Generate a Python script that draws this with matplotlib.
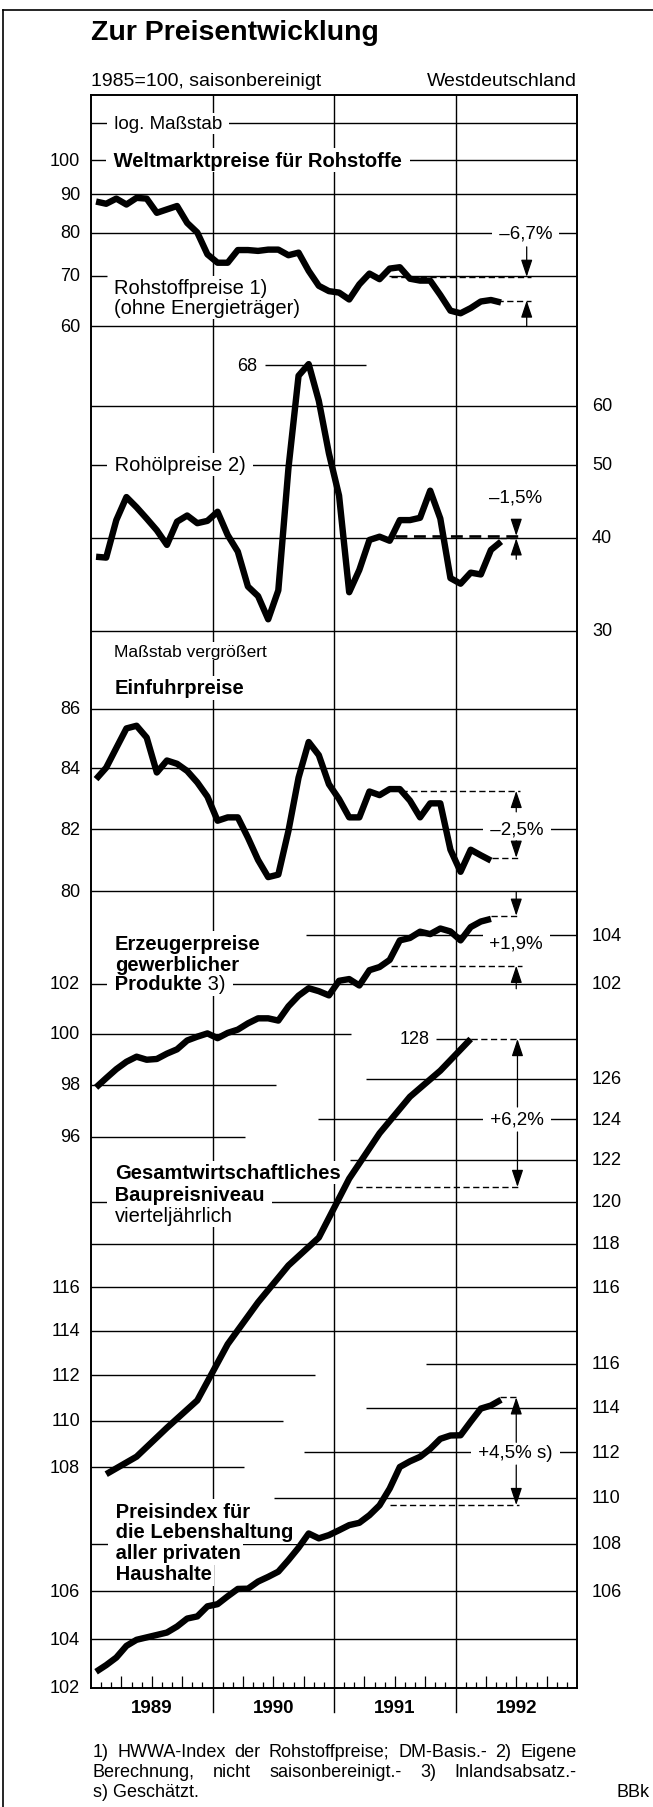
import numpy as np
import matplotlib
matplotlib.use("Agg")
import matplotlib.pyplot as plt
import matplotlib.transforms as mtransforms
from matplotlib.lines import Line2D

plt.rcParams['font.family'] = ['Liberation Sans', 'DejaVu Sans']

# ---------------- data ----------------
# monthly, Jan 1989 - May 1992
rohstoffpreise = [88.0, 87.4, 88.8, 87.2, 89.0, 88.8, 85.0, 85.9, 86.8, 82.4,
                  80.0, 74.8, 72.9, 72.9, 75.8, 75.8, 75.6, 75.9, 75.9, 74.6,
                  75.2, 71.1, 67.9, 66.8, 66.5, 65.1, 68.2, 70.5, 69.3, 71.6,
                  71.9, 69.4, 69.0, 69.0, 66.0, 62.9, 62.4, 63.4, 64.7, 65.0, 64.5]
rohoelpreise = [37.7, 37.6, 42.2, 45.3, 43.9, 42.4, 40.9, 39.1, 42.0, 42.8,
                41.8, 42.1, 43.3, 40.3, 38.3, 34.4, 33.4, 31.1, 34.0, 49.5,
                65.8, 68.2, 60.9, 51.8, 45.5, 33.8, 36.2, 39.7, 40.1, 39.6,
                42.2, 42.2, 42.5, 46.2, 42.4, 35.3, 34.7, 35.9, 35.7, 38.5, 39.5]
# monthly, Jan 1989 - Apr 1992
einfuhrpreise = [83.64, 84.02, 84.68, 85.34, 85.43, 85.03, 83.86, 84.26, 84.15, 83.91,
                 83.53, 83.06, 82.27, 82.38, 82.38, 81.72, 81.00, 80.45, 80.53, 81.94,
                 83.69, 84.88, 84.44, 83.47, 82.98, 82.38, 82.38, 83.23, 83.11, 83.31,
                 83.31, 82.93, 82.38, 82.84, 82.84, 81.33, 80.62, 81.33, 81.15, 80.98]
erzeugerpreise = [97.90, 98.26, 98.61, 98.90, 99.10, 98.98, 99.01, 99.22, 99.39, 99.74,
                  99.89, 100.02, 99.83, 100.04, 100.17, 100.42, 100.62, 100.62, 100.53, 101.10,
                  101.53, 101.83, 101.71, 101.54, 102.13, 102.20, 101.94, 102.56, 102.69, 102.98,
                  103.78, 103.88, 104.14, 104.04, 104.27, 104.15, 103.78, 104.33, 104.56, 104.67]
# quarterly, Q1 1989 - Q1 1992
baupreisniveau = [107.7, 108.45, 109.7, 110.9, 113.4, 115.3, 117.0, 118.3, 121.1,
                  123.3, 125.1, 126.4, 128.0]
# monthly, Jan 1989 - May 1992
lebenshaltung = [102.66, 102.93, 103.24, 103.72, 103.97, 104.07, 104.17, 104.27, 104.52, 104.85,
                 104.94, 105.36, 105.45, 105.78, 106.09, 106.10, 106.40, 106.60, 106.82, 107.31,
                 107.84, 108.45, 108.24, 108.38, 108.59, 108.81, 108.91, 109.24, 109.67, 110.40,
                 111.35, 111.60, 111.80, 112.15, 112.60, 112.75, 112.76, 113.37, 113.96, 114.10, 114.36]

years = [1989, 1990, 1991, 1992]
year_labels = ['1989', '1990', '1991', '1992']

ticks_rohstoff_l = [100, 90, 80, 70, 60]
ticks_rohoel_r = [60, 50, 40, 30]
ticks_einfuhr_l = [86, 84, 82, 80]
ticks_erzeuger_l = [102, 100, 98, 96]
ticks_erzeuger_r = [104, 102]
ticks_bau_l = [116, 114, 112, 110, 108]
ticks_bau_r = [126, 124, 122, 120, 118, 116]
ticks_leben_l = [106, 104, 102]
ticks_leben_r = [116, 114, 112, 110, 108, 106]

# change annotations: level a year earlier, latest level, label
ref_earlier = [69.8, 40.2, 83.25, 102.74, 120.7, 109.68]
ref_latest = [64.9, 39.9, 81.07, 104.80, 128.0, 114.47]
pct_labels = ['–6,7%', '–1,5%', '–2,5%', '+1,9%', '+6,2%', '+4,5% s)']
rohoel_peak = 68
bau_peak = 128

fn1 = ['1)', 'HWWA-Index', 'der', 'Rohstoffpreise;', 'DM-Basis.-', '2)', 'Eigene']
fn2 = ['Berechnung,', 'nicht', 'saisonbereinigt.-', '3)', 'Inlandsabsatz.-']
fn3 = 's) Geschätzt.'

# ---------------- layout ----------------
W, H = 653, 1808
LP, RP, TP, BP = 91, 577, 96, 1689
XA, XB = 1989.0, 1993.0
PXY = (RP - LP) / (XB - XA)
FS_LAB = 14.5
FS_TICK = 13
FS_PCT = 13.5

fig = plt.figure(figsize=(W / 100, H / 100), dpi=100)
fig.patch.set_facecolor('white')
rect = [LP / W, 1 - BP / H, (RP - LP) / W, (BP - TP) / H]
renderer = fig.canvas.get_renderer()


def fy(py):
    return (BP - py) / (BP - TP)


def sp(fs):
    return 0.278 * fs * 100 / 72 / PXY


ax0 = fig.add_axes(rect, label='frame')
ax0.set_xlim(XA, XB)
ax0.set_ylim(0, 1)
for s in ax0.spines.values():
    s.set_linewidth(1.4)
quarters = [y + q / 4 for y in years for q in (1, 2, 3)]
months = [y + m / 12 for y in years for m in range(1, 12) if m % 3]
ax0.set_xticks(quarters)
ax0.set_xticks(months, minor=True)
ax0.tick_params(axis='x', which='both', direction='in', width=0.9, top=False,
                labelbottom=False)
ax0.tick_params(axis='x', which='major', length=9)
ax0.tick_params(axis='x', which='minor', length=4.5)
ax0.set_yticks([])
for y in years[1:]:
    ax0.axvline(y, color='k', lw=1.0, zorder=1)
xtr = ax0.get_xaxis_transform()
for y in years[1:]:
    ax0.plot([y, y], [0, -24 / (BP - TP)], transform=xtr, color='k', lw=1.0, clip_on=False)
for y, lab in zip(years, year_labels):
    ax0.text(y + 0.5, -20 / (BP - TP), lab, transform=xtr, ha='center', va='center',
             fontsize=13.5, fontweight='bold')


def panel(name, v0, p0, k):
    ax = fig.add_axes(rect, label=name)
    ax.set_yscale('log')
    ax.set_xlim(XA, XB)
    ax.set_ylim(v0 * np.exp(-(BP - p0) / k), v0 * np.exp((p0 - TP) / k))
    ax.set_autoscale_on(False)
    ax.set_axis_off()
    ax.patch.set_alpha(0)
    return ax


axR1 = panel('rohstoff', 100, 161, 325)
axR2 = panel('rohoel', 40, 538.5, 325)
axE = panel('einfuhr', 86, 710, 2520)
axP = panel('erzeuger', 102, 985, 2520)
axB = panel('bau', 128, 1040, 2520)
axL = panel('leben', 102, 1689, 2520)

LINE = dict(color='k', lw=4.6, solid_joinstyle='round', solid_capstyle='butt', zorder=5)
BOX = dict(boxstyle='square,pad=0.1', fc='white', ec='none')


def hl(ax, v, a=XA, b=XB):
    ax.hlines(v, a, b, colors='k', linewidths=1.0, zorder=1)


def dashed(ax, v, a, b, lw=1.0):
    ax.hlines(v, a, b, colors='k', linewidths=lw, linestyles=(0, (4.5, 2.5)), zorder=2)


def arrow(ax, x, v, tail_px):
    ax.annotate('', xy=(x, v), xytext=(0, tail_px), textcoords='offset pixels',
                arrowprops=dict(arrowstyle='-|>,head_length=0.75,head_width=0.25',
                                mutation_scale=14, lw=0.9, color='k',
                                shrinkA=0, shrinkB=0), zorder=4)


def btext(ax, x, y, s, px=False, **kw):
    """text on a white patch: the patch is drawn below every text of the panel"""
    kw.setdefault('va', 'center')
    if px:
        kw['transform'] = ax0.transData
        y = fy(y)
    ax.text(x, y, s, color='white', bbox=BOX, zorder=3, **kw)
    return ax.text(x, y, s, color='k', zorder=3.5, **kw)


def ticklabels(ax, vals, side):
    tr = mtransforms.blended_transform_factory(ax.transAxes, ax.transData)
    for v in vals:
        if side == 'l':
            ax.text(-11 / (RP - LP), v, str(v), transform=tr, ha='right', va='center',
                    fontsize=FS_TICK, clip_on=False)
        else:
            ax.text(1 + 15 / (RP - LP), v, str(v), transform=tr, ha='left', va='center',
                    fontsize=FS_TICK, clip_on=False)


def monthly(n):
    return XA + (np.arange(n) + 0.5) / 12


def quarterly(n):
    return XA + (np.arange(n) * 3 + 1.5) / 12


# ---------------- Rohstoffpreise ----------------
for v in (112, 100, 90, 80, 60):
    hl(axR1, v)
hl(axR1, 70, XA, 1989.13)
hl(axR1, 70, 1991.45, XB)
ticklabels(axR1, ticks_rohstoff_l, 'l')
btext(axR1, 1989.188 - sp(13.5), 112, ' log. Maßstab ', fontsize=13.5)
btext(axR1, 1989.186 - sp(FS_LAB), 100, ' Weltmarktpreise für Rohstoffe ', fontsize=FS_LAB,
      fontweight='bold')
btext(axR1, 1992.577, 80, ' ' + pct_labels[0] + ' ', fontsize=FS_PCT, ha='center')
btext(axR1, 1989.188, 288.3, 'Rohstoffpreise 1)', px=True, fontsize=FS_LAB)
btext(axR1, 1989.188, 308.3, '(ohne Energieträger)', px=True, fontsize=FS_LAB)
dashed(axR1, ref_earlier[0], 1991.47, 1992.62)
dashed(axR1, ref_latest[0], 1992.34, 1992.62)
arrow(axR1, 1992.586, ref_earlier[0], 30)
arrow(axR1, 1992.586, ref_latest[0], -26)
axR1.plot(monthly(len(rohstoffpreise)), rohstoffpreise, **LINE)

# ---------------- Rohölpreise ----------------
for v in (60, 50, 40, 30):
    hl(axR2, v)
hl(axR2, rohoel_peak, 1990.43, 1991.26)
axR2.text(1990.369, rohoel_peak, str(rohoel_peak), fontsize=FS_TICK, ha='right', va='center')
ticklabels(axR2, ticks_rohoel_r, 'r')
btext(axR2, 1989.193 - sp(FS_LAB), 50, ' Rohölpreise 2) ', fontsize=FS_LAB)
axR2.text(1992.496, fy(498), pct_labels[1], transform=ax0.transData, fontsize=FS_PCT,
          ha='center', va='center', zorder=3)
dashed(axR2, ref_earlier[1], 1991.5, 1992.53, lw=1.9)
dashed(axR2, ref_latest[1], 1992.37, 1992.52)
arrow(axR2, 1992.5, ref_earlier[1], 16)
arrow(axR2, 1992.5, ref_latest[1], -21)
axR2.plot(monthly(len(rohoelpreise)), rohoelpreise, **LINE)

# ---------------- Einfuhrpreise ----------------
for v in (86, 84, 82, 80):
    hl(axE, v)
ticklabels(axE, ticks_einfuhr_l, 'l')
btext(axE, 1989.193, 652, 'Maßstab vergrößert', px=True, fontsize=12.5)
btext(axE, 1989.192, 689, 'Einfuhrpreise', px=True, fontsize=FS_LAB, fontweight='bold')
btext(axE, 1992.507, 82, ' ' + pct_labels[2] + ' ', fontsize=FS_PCT, ha='center')
dashed(axE, ref_earlier[2], 1991.55, 1992.53)
dashed(axE, ref_latest[2], 1992.3, 1992.53)
arrow(axE, 1992.5, ref_earlier[2], -21)
arrow(axE, 1992.5, ref_latest[2], 17)
axE.plot(monthly(len(einfuhrpreise)), einfuhrpreise, **LINE)

# ---------------- Erzeugerpreise ----------------
hl(axP, 104, 1990.77, XB)
hl(axP, 102)
hl(axP, 100, XA, 1991.14)
hl(axP, 98, XA, 1990.52)
hl(axP, 96, XA, 1990.27)
ticklabels(axP, ticks_erzeuger_l, 'l')
ticklabels(axP, ticks_erzeuger_r, 'r')
btext(axP, 1992.501, 944, ' ' + pct_labels[3] + ' ', px=True, fontsize=FS_PCT, ha='center')
btext(axP, 1989.195, 944, 'Erzeugerpreise', px=True, fontsize=FS_LAB, fontweight='bold')
btext(axP, 1989.195, 965.5, 'gewerblicher', px=True, fontsize=FS_LAB, fontweight='bold')
t_prod = btext(axP, 1989.195 - sp(FS_LAB), 102, ' Produkte', fontsize=FS_LAB,
               fontweight='bold')
for col, z, bb in (('white', 3, BOX), ('k', 3.5, None)):
    axP.annotate(' 3) ', xy=(1, 0.5), xycoords=t_prod, fontsize=FS_LAB, ha='left',
                 va='center', color=col, bbox=bb, zorder=z)
dashed(axP, ref_latest[3], 1992.29, 1992.53)
dashed(axP, ref_earlier[3], 1991.47, 1992.55)
arrow(axP, 1992.5, ref_latest[3], 24)
arrow(axP, 1992.5, ref_earlier[3], -23)
axP.plot(monthly(len(erzeugerpreise)), erzeugerpreise, **LINE)

# ---------------- Baupreisniveau ----------------
hl(axB, bau_peak, 1991.84, 1992.13)
hl(axB, bau_peak, 1992.52, XB)
hl(axB, 126, 1991.26, XB)
hl(axB, 124, 1990.87, XB)
hl(axB, 122, 1991.13, XB)
for v in (120, 118, 116, 114):
    hl(axB, v)
hl(axB, 112, XA, 1990.84)
hl(axB, 110, XA, 1990.58)
hl(axB, 108, XA, 1990.26)
ticklabels(axB, ticks_bau_l, 'l')
ticklabels(axB, ticks_bau_r, 'r')
axB.text(1991.791, bau_peak, str(bau_peak), fontsize=FS_TICK, ha='right', va='center')
btext(axB, 1992.507, 124, ' ' + pct_labels[4] + ' ', fontsize=FS_PCT, ha='center')
btext(axB, 1989.197, 1173.3, 'Gesamtwirtschaftliches', px=True, fontsize=FS_LAB,
      fontweight='bold')
btext(axB, 1989.197 - sp(FS_LAB), 1195.5, ' Baupreisniveau ', px=True, fontsize=FS_LAB,
      fontweight='bold')
btext(axB, 1989.197, 1216.7, 'vierteljährlich', px=True, fontsize=FS_LAB)
dashed(axB, ref_latest[4], 1992.13, 1992.52)
dashed(axB, ref_earlier[4], 1991.18, 1992.54)
arrow(axB, 1992.51, ref_latest[4], -68)
arrow(axB, 1992.51, ref_earlier[4], 55)
axB.plot(quarterly(len(baupreisniveau)), baupreisniveau, **LINE)

# ---------------- Lebenshaltung ----------------
hl(axL, 116, 1991.76, XB)
hl(axL, 114, 1991.26, XB)
hl(axL, 112, 1990.75, XB)
hl(axL, 110, 1990.51, XB)
for v in (108, 106, 104):
    hl(axL, v)
ticklabels(axL, ticks_leben_l, 'l')
ticklabels(axL, ticks_leben_r, 'r')
btext(axL, 1992.494, 112, ' ' + pct_labels[5] + ' ', fontsize=FS_PCT, ha='center')
for s, py in zip([' Preisindex für', ' die Lebenshaltung ', ' aller privaten', ' Haushalte'],
                 [1512, 1533, 1554, 1575]):
    btext(axL, 1989.203 - sp(FS_LAB), py, s, px=True, fontsize=FS_LAB, fontweight='bold')
dashed(axL, ref_latest[5], 1992.37, 1992.52)
dashed(axL, ref_earlier[5], 1991.46, 1992.52)
arrow(axL, 1992.5, ref_latest[5], -45)
arrow(axL, 1992.5, ref_earlier[5], 40)
axL.plot(monthly(len(lebenshaltung)), lebenshaltung, **LINE)

# ---------------- titles ----------------
fig.text(91 / W, 1 - 40 / H, 'Zur Preisentwicklung', fontsize=20.5, fontweight='bold',
         va='baseline')
fig.text(91 / W, 1 - 86 / H, '1985=100, saisonbereinigt', fontsize=14, va='baseline')
fig.text(576.5 / W, 1 - 86 / H, 'Westdeutschland', fontsize=14, va='baseline', ha='right')

# outer border
fig.add_artist(Line2D([3 / W, 3 / W], [0, 1 - 11 / H], transform=fig.transFigure,
                      color='k', lw=1.2))
fig.add_artist(Line2D([3 / W, 1], [1 - 11 / H, 1 - 11 / H], transform=fig.transFigure,
                      color='k', lw=1.2))


# ---------------- footnotes ----------------
def justified(words, x0, x1, base, fs):
    ts = [fig.text(0, 1 - base / H, w, fontsize=fs, va='baseline') for w in words]
    ws = [t.get_window_extent(renderer).width for t in ts]
    gap = (x1 - x0 - sum(ws)) / (len(words) - 1)
    x = x0
    for t, w in zip(ts, ws):
        t.set_x(x / W)
        x += w + gap


justified(fn1, 92.5, 576.5, 1757, 13)
justified(fn2, 92.5, 576.5, 1777, 13)
fig.text(92.5 / W, 1 - 1797 / H, fn3, fontsize=13, va='baseline')
fig.text(617 / W, 1 - 1797 / H, 'BBk', fontsize=13, va='baseline')

fig.savefig('out.png', dpi=100)
